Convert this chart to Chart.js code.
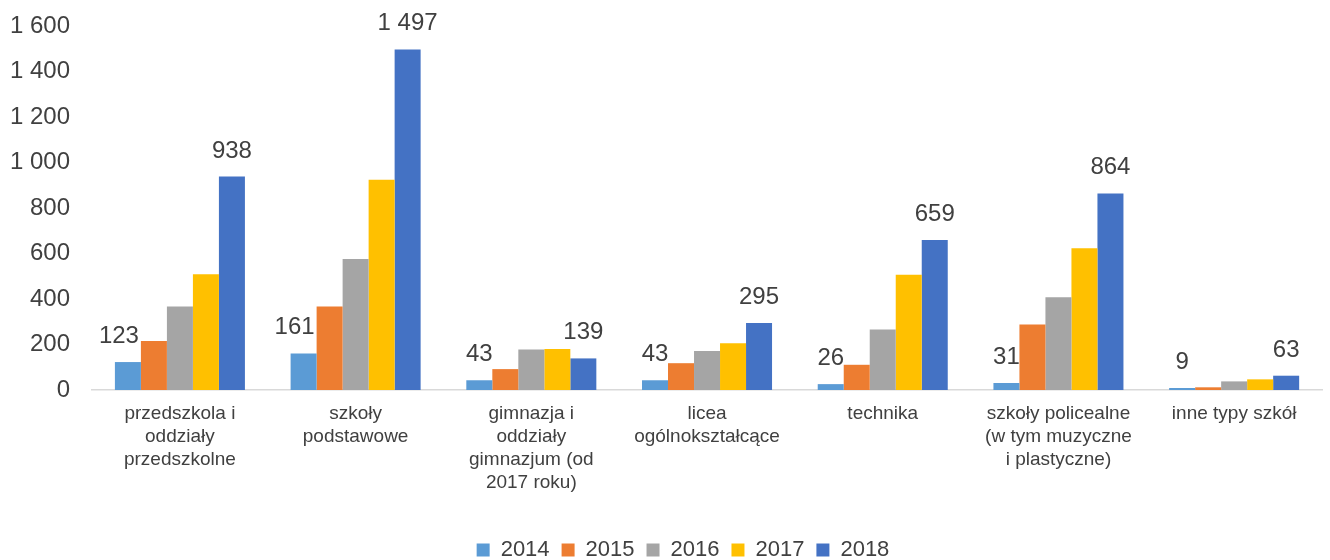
<!DOCTYPE html>
<html>
<head>
<meta charset="utf-8">
<script src="https://cdn.jsdelivr.net/npm/chart.js@4.4.1/dist/chart.umd.min.js"></script>
<style>
  html, body { margin: 0; padding: 0; background: #ffffff; }
  #wrap { width: 1330px; height: 560px; position: relative; }
</style>
</head>
<body>
<div id="wrap"><canvas id="c" width="1330" height="560"></canvas></div>
<script>
const categories = [
  ["przedszkola i", "oddziały", "przedszkolne"],
  ["szkoły", "podstawowe"],
  ["gimnazja i", "oddziały", "gimnazjum (od", "2017 roku)"],
  ["licea", "ogólnokształcące"],
  ["technika"],
  ["szkoły policealne", "(w tym muzyczne", "i plastyczne)"],
  ["inne typy szkół"]
];
const seriesNames = ["2014", "2015", "2016", "2017", "2018"];
const v2014 = [123, 161, 43, 43, 26, 31, 9];
const v2015 = [215, 367, 92, 118, 111, 288, 12];
const v2016 = [367, 576, 178, 172, 266, 408, 38];
const v2017 = [509, 924, 180, 206, 507, 623, 47];
const v2018 = [938, 1497, 139, 295, 659, 864, 63];
const yTicks = [0, 200, 400, 600, 800, 1000, 1200, 1400, 1600];
const labeledSeries = [0, 4];
const colors = ["#5B9BD5", "#ED7D31", "#A5A5A5", "#FFC000", "#4472C4"];

const FONT = "'Liberation Sans', Arial, sans-serif";
const TXT = "#404040";
const fmt = n => String(n).replace(/\B(?=(\d{3})+(?!\d))/g, " ");

const valueLabels = {
  id: "valueLabels",
  afterDatasetsDraw(chart, args, opts) {
    const ctx = chart.ctx;
    ctx.save();
    ctx.font = "24px " + FONT;
    ctx.fillStyle = TXT;
    ctx.textAlign = "center";
    ctx.textBaseline = "alphabetic";
    labeledSeries.forEach(di => {
      const meta = chart.getDatasetMeta(di);
      meta.data.forEach((bar, i) => {
        const v = chart.data.datasets[di].data[i];
        const dx = (di === 0 && opts.shiftFirst && i < 2) ? -9 : 0;
        ctx.fillText(fmt(v), bar.x + dx, bar.y - 19);
      });
    });
    ctx.restore();
  }
};

const legendShift = {
  id: "legendShift",
  afterLayout(chart, args, opts) {
    const lg = chart.legend;
    if (lg) { lg.left += opts.dx; lg.right += opts.dx; }
  }
};

const allSeries = [v2014, v2015, v2016, v2017, v2018];
const datasets = seriesNames.map((name, k) => ({
  label: name,
  data: allSeries[k],
  backgroundColor: colors[k],
  borderWidth: 0,
  categoryPercentage: 0.74,
  barPercentage: 1.0
}));

new Chart(document.getElementById("c"), {
  type: "bar",
  data: { labels: categories, datasets },
  plugins: [valueLabels, legendShift],
  options: {
    responsive: false,
    animation: false,
    layout: { padding: { left: -12, right: 8, top: 26, bottom: -11 } },
    plugins: {
      tooltip: { enabled: false },
      valueLabels: { shiftFirst: true },
      legendShift: { dx: 28 },
      legend: {
        position: "bottom",
        labels: {
          font: { family: FONT, size: 22 },
          color: TXT,
          boxWidth: 13,
          boxHeight: 13,
          padding: 12
        }
      }
    },
    scales: {
      y: {
        min: 0,
        max: 1600,
        afterBuildTicks: s => { s.ticks = yTicks.map(v => ({ value: v })); },
        afterFit: s => { s.paddingTop = 0; s.paddingBottom = 0; },
        grid: { display: false, drawTicks: false },
        border: { display: false },
        ticks: {
          padding: 22,
          color: TXT,
          font: { family: FONT, size: 24 },
          callback: v => fmt(v)
        }
      },
      x: {
        grid: { display: false, drawTicks: false },
        border: { display: true, color: "#D9D9D9", width: 1.5 },
        afterFit: s => { s.height += 21; s.paddingLeft = 0; s.paddingRight = 0; },
        ticks: {
          padding: 12,
          color: TXT,
          maxRotation: 0,
          autoSkip: false,
          font: { family: FONT, size: 19, lineHeight: 1.21 }
        }
      }
    }
  }
});
</script>
</body>
</html>
